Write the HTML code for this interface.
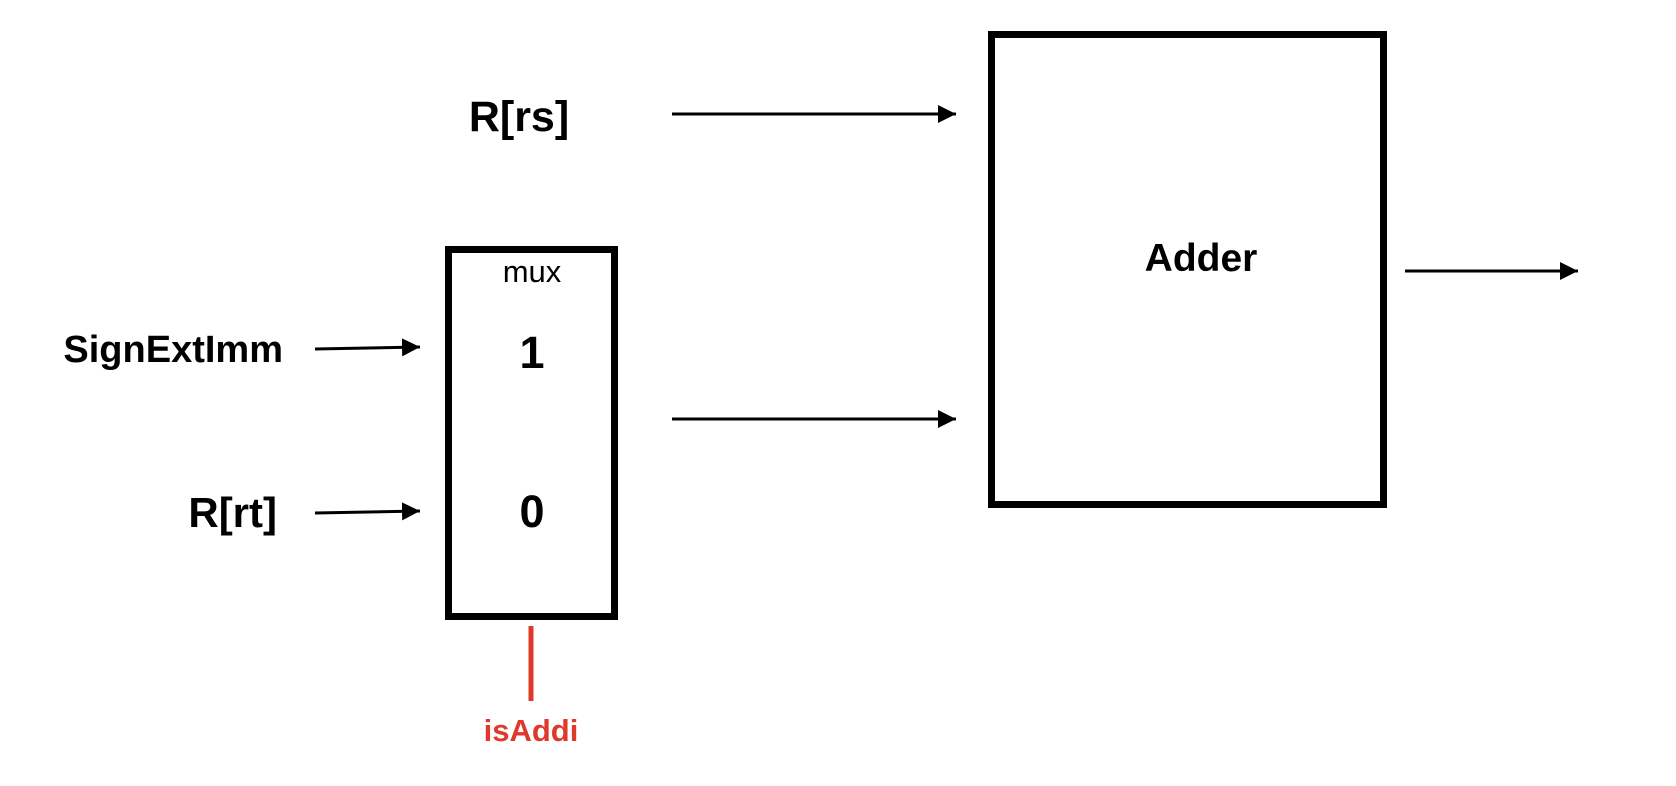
<!DOCTYPE html>
<html><head><meta charset="utf-8"><style>
html,body{margin:0;padding:0;background:#fff;}
svg{display:block;}
text{font-family:"Liberation Sans",Arial,sans-serif;}
</style></head><body>
<svg width="1676" height="786" viewBox="0 0 1676 786" xmlns="http://www.w3.org/2000/svg">
<defs>
<marker id="ah" markerWidth="18" markerHeight="18" refX="18" refY="9" orient="auto" markerUnits="userSpaceOnUse">
<path d="M0,0 L18,9 L0,18 z" fill="#000"/>
</marker>
</defs>
<rect width="1676" height="786" fill="#fff"/>
<!-- labels -->
<text x="519" y="131" font-size="43" font-weight="bold" text-anchor="middle">R[rs]</text>
<text x="283" y="362" font-size="38" font-weight="bold" text-anchor="end">SignExtImm</text>
<text x="277" y="527" font-size="42" font-weight="bold" text-anchor="end">R[rt]</text>
<!-- mux -->
<rect x="448.5" y="249.5" width="166" height="367" fill="none" stroke="#000" stroke-width="7"/>
<text x="532" y="282" font-size="31" text-anchor="middle">mux</text>
<text x="532" y="368" font-size="45" font-weight="bold" text-anchor="middle">1</text>
<text x="532" y="527" font-size="45" font-weight="bold" text-anchor="middle">0</text>
<!-- isAddi -->
<line x1="531" y1="626" x2="531" y2="701" stroke="#e0392b" stroke-width="5"/>
<text x="531" y="741" font-size="31" font-weight="bold" fill="#e0392b" text-anchor="middle">isAddi</text>
<!-- arrows -->
<line x1="315" y1="349" x2="420" y2="347" stroke="#000" stroke-width="3" marker-end="url(#ah)"/>
<line x1="315" y1="513" x2="420" y2="511" stroke="#000" stroke-width="3" marker-end="url(#ah)"/>
<line x1="672" y1="114" x2="956" y2="114" stroke="#000" stroke-width="3" marker-end="url(#ah)"/>
<line x1="672" y1="419" x2="956" y2="419" stroke="#000" stroke-width="3" marker-end="url(#ah)"/>
<line x1="1405" y1="271" x2="1578" y2="271" stroke="#000" stroke-width="3" marker-end="url(#ah)"/>
<!-- adder -->
<rect x="991.5" y="34.5" width="392" height="470" fill="none" stroke="#000" stroke-width="7"/>
<text x="1201" y="271" font-size="39" font-weight="bold" text-anchor="middle">Adder</text>
</svg>
</body></html>
